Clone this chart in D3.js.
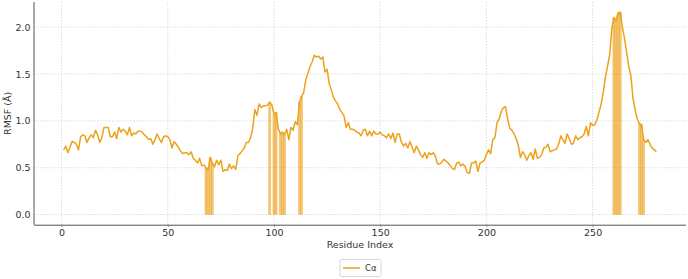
<!DOCTYPE html>
<html>
<head>
<meta charset="utf-8">
<script src="https://cdn.jsdelivr.net/npm/d3@7"></script>
<style>
  html, body { margin: 0; padding: 0; background: #fff; }
  svg { display: block; font-family: "DejaVu Sans", sans-serif; }
</style>
</head>
<body>
<svg id="chart" width="688" height="279"></svg>
<script>
// ---- data ----
const rmsf = [
  0.69,0.73,0.66,0.72,0.78,0.77,0.75,0.69,0.83,0.85,
  0.84,0.77,0.82,0.85,0.82,0.90,0.85,0.77,0.82,0.93,
  0.93,0.93,0.83,0.83,0.88,0.81,0.93,0.88,0.91,0.89,
  0.85,0.93,0.84,0.87,0.86,0.89,0.89,0.88,0.85,0.83,
  0.80,0.81,0.75,0.80,0.86,0.81,0.77,0.83,0.84,0.83,
  0.80,0.71,0.78,0.75,0.72,0.68,0.65,0.66,0.66,0.64,
  0.67,0.60,0.58,0.55,0.60,0.52,0.53,0.50,0.48,0.61,
  0.55,0.51,0.58,0.53,0.58,0.46,0.48,0.47,0.54,0.49,
  0.52,0.48,0.63,0.65,0.68,0.71,0.77,0.77,0.82,0.92,
  1.12,1.06,1.18,1.14,1.16,1.16,1.17,1.20,1.17,1.07,
  1.09,0.92,0.86,0.88,0.85,0.91,0.80,0.93,0.90,0.99,
  0.96,1.20,1.26,1.30,1.44,1.51,1.58,1.63,1.70,1.68,
  1.69,1.66,1.68,1.52,1.55,1.40,1.33,1.25,1.21,1.18,
  1.12,1.09,1.05,0.93,0.98,0.91,0.91,0.90,0.88,0.87,
  0.84,0.90,0.91,0.84,0.89,0.84,0.89,0.86,0.86,0.88,
  0.85,0.84,0.82,0.86,0.81,0.87,0.77,0.86,0.86,0.77,
  0.73,0.76,0.71,0.78,0.72,0.66,0.73,0.69,0.64,0.61,
  0.66,0.60,0.66,0.64,0.66,0.62,0.54,0.54,0.56,0.59,
  0.57,0.55,0.52,0.49,0.48,0.55,0.56,0.52,0.54,0.51,
  0.45,0.44,0.55,0.55,0.57,0.46,0.55,0.56,0.58,0.64,
  0.69,0.65,0.80,0.82,0.98,1.02,1.10,1.14,1.15,1.02,
  0.92,0.90,0.86,0.81,0.74,0.61,0.67,0.64,0.58,0.63,
  0.66,0.59,0.70,0.60,0.61,0.64,0.71,0.72,0.75,0.67,
  0.68,0.69,0.70,0.75,0.84,0.80,0.76,0.86,0.81,0.75,
  0.76,0.84,0.80,0.82,0.83,0.86,0.94,0.84,0.98,0.95,
  0.96,1.01,1.09,1.18,1.30,1.47,1.58,1.70,1.98,2.10,
  2.07,2.15,2.16,2.00,1.88,1.73,1.58,1.48,1.24,1.12,
  1.02,0.97,0.96,0.80,0.77,0.80,0.75,0.71,0.69,0.67
];
const residues = rmsf.map((_, i) => i + 1);
const highlighted = [68,69,70,71,98,100,101,103,104,105,112,113,260,261,262,263,272,273,274];
const xTicks = [0, 50, 100, 150, 200, 250];
const yTicks = [0.0, 0.5, 1.0, 1.5, 2.0];
const seriesLabel = "Cα";
const xTitle = "Residue Index";
const yTitle = "RMSF (Å)";

// ---- layout ----
const svg = d3.select("#chart");
const L = 34, R = 686, T = 2, B = 224.7;
const color = "#ECA21B";
const textColor = "#333";

const xMin = d3.min(residues), xMax = d3.max(residues);
const xPad = 0.05 * (xMax - xMin);
const x = d3.scaleLinear().domain([xMin - xPad, xMax + xPad]).range([L, R]);
const yMax = d3.max(rmsf);
const yPad = 0.05 * yMax;
const y = d3.scaleLinear().domain([0 - yPad, yMax + yPad]).range([B, T]);

// grid
const grid = svg.append("g");
grid.selectAll("line.gx").data(xTicks).join("line")
  .attr("x1", d => x(d)).attr("x2", d => x(d)).attr("y1", T).attr("y2", B)
  .attr("stroke", "#d4d4d4").attr("stroke-width", 0.8).attr("stroke-dasharray", "1.5,1.5");
grid.selectAll("line.gy").data(yTicks).join("line")
  .attr("x1", L).attr("x2", R).attr("y1", d => y(d)).attr("y2", d => y(d))
  .attr("stroke", "#d4d4d4").attr("stroke-width", 0.8).attr("stroke-dasharray", "1.5,1.5");

// highlighted bars
svg.append("g").selectAll("rect").data(highlighted).join("rect")
  .attr("x", d => x(d - 0.5))
  .attr("width", d => x(d + 0.5) - x(d - 0.5))
  .attr("y", d => y(rmsf[d - 1]))
  .attr("height", d => y(0) - y(rmsf[d - 1]))
  .attr("fill", color).attr("fill-opacity", 0.6)
  .attr("stroke", color).attr("stroke-opacity", 0.5).attr("stroke-width", 0.6);

// line
const line = d3.line().x((d, i) => x(residues[i])).y(d => y(d));
svg.append("path").datum(rmsf)
  .attr("d", line).attr("fill", "none")
  .attr("stroke", color).attr("stroke-width", 1.5).attr("stroke-linejoin", "round");

// axes
const xAxis = d3.axisBottom(x).tickValues(xTicks).tickFormat(d3.format("d")).tickSize(2.5).tickPadding(2);
const gx = svg.append("g").attr("transform", `translate(0,${B})`).call(xAxis);
const yAxis = d3.axisLeft(y).tickValues(yTicks).tickFormat(d3.format(".1f")).tickSize(0).tickPadding(3.5);
const gy = svg.append("g").attr("transform", `translate(${L},0)`).call(yAxis);
[gx, gy].forEach(g => {
  g.select(".domain").attr("stroke", "#555").attr("stroke-width", 1);
  g.selectAll(".tick line").attr("stroke", "#777").attr("stroke-width", 0.8);
  g.selectAll(".tick text").attr("fill", textColor).attr("font-size", 9.5)
    .attr("font-family", "DejaVu Sans, sans-serif");
});
// extend the x-axis domain line to full width with no end ticks
gx.select(".domain").attr("d", `M${L},0.5H${R}`);
gy.select(".domain").attr("d", `M0,${T}V${B}`);

// titles
svg.append("text").attr("x", (L + R) / 2).attr("y", 248)
  .attr("text-anchor", "middle").attr("font-size", 9.5).attr("fill", textColor).text(xTitle);
svg.append("text").attr("transform", `translate(10.5,${(T + B) / 2}) rotate(-90)`)
  .attr("text-anchor", "middle").attr("font-size", 9.5).attr("fill", textColor).text(yTitle);

// legend
const lg = svg.append("g");
lg.append("rect").attr("x", 340).attr("y", 259.5).attr("width", 41).attr("height", 17)
  .attr("rx", 2).attr("fill", "#fff").attr("stroke", "#ccc").attr("stroke-width", 0.8);
lg.append("line").attr("x1", 343).attr("x2", 360).attr("y1", 268).attr("y2", 268)
  .attr("stroke", color).attr("stroke-width", 1.5);
lg.append("text").attr("x", 365).attr("y", 271).attr("font-size", 8.5).attr("fill", textColor).text(seriesLabel);
</script>
</body>
</html>
